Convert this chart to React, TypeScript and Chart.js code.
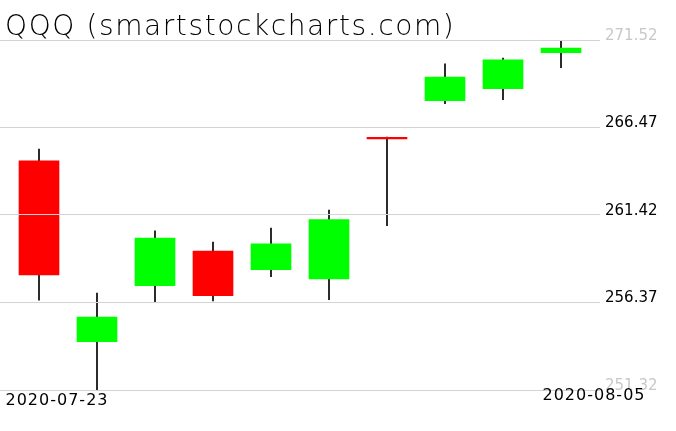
import React, { useEffect, useRef } from "react";
import { Chart, registerables } from "chart.js";

Chart.register(...registerables);

const TITLE = "QQQ (smartstockcharts.com)";
const dates = ["2020-07-23", "2020-07-24", "2020-07-27", "2020-07-28", "2020-07-29", "2020-07-30", "2020-07-31", "2020-08-03", "2020-08-04", "2020-08-05"];
const opens = [264.54, 254.11, 257.34, 259.34, 258.26, 257.73, 265.81, 268.02, 268.71, 270.79];
const highs = [265.23, 256.92, 260.5, 259.86, 260.67, 261.71, 265.92, 270.14, 270.48, 271.46];
const lows = [256.51, 251.34, 256.4, 256.46, 257.86, 256.53, 260.8, 267.84, 268.07, 269.92];
const closes = [257.96, 255.53, 260.09, 256.76, 259.75, 261.15, 265.81, 269.38, 270.37, 271.06];
const yTicks = [251.32, 256.37, 261.42, 266.47, 271.52];
const xLabelIdx = [0, 9];

export default function App() {
  const ref = useRef<HTMLCanvasElement | null>(null);
  useEffect(() => {
    const canvas = ref.current;
    if (!canvas) return;
    const up = "#00ff00";
    const down = "#ff0000";
    const colors = opens.map((o, i) => (closes[i] > o ? up : down));

    const overlay = {
      id: "overlay",
      afterDraw(chart: any) {
        const ctx = chart.ctx;
        const xs = chart.scales.x;
        ctx.save();
        ctx.fillStyle = "#000";
        ctx.font = "200 28px 'DejaVu Sans'";
        (ctx as any).letterSpacing = "1.6px";
        ctx.textAlign = "left";
        ctx.textBaseline = "alphabetic";
        ctx.fillText(TITLE, 5, 35);
        ctx.font = "16px 'DejaVu Sans'";
        (ctx as any).letterSpacing = "1px";
        ctx.textBaseline = "top";
        ctx.textAlign = "center";
        const first = xLabelIdx[0];
        const last = xLabelIdx[1];
        ctx.fillText(dates[first], xs.getPixelForValue(first) + 18, 393);
        ctx.fillText(dates[last], xs.getPixelForValue(last) + 33, 388);
        ctx.restore();
      },
    };

    const chart = new Chart(canvas, {
      type: "bar",
      data: {
        datasets: [
          {
            label: "body",
            data: dates.map((_, i) => ({ x: i, y: [opens[i], closes[i]] })) as any,
            backgroundColor: colors,
            barThickness: 40,
            minBarLength: 1.5,
            grouped: false,
            borderWidth: 0,
          },
          {
            label: "wick",
            data: dates.map((_, i) => ({ x: i, y: [lows[i], highs[i]] })) as any,
            backgroundColor: "#000",
            barThickness: 1,
            grouped: false,
            borderWidth: 0,
          },
        ],
      },
      options: {
        animation: false,
        responsive: false,
        devicePixelRatio: 1,
        layout: { padding: { top: 40, bottom: 41, left: 0, right: 0 } },
        plugins: { legend: { display: false }, tooltip: { enabled: false }, title: { display: false } },
        scales: {
          x: {
            type: "linear",
            offset: false,
            min: -39 / 58,
            max: 9 + 39 / 58,
            display: false,
            grid: { offset: false },
          },
          y: {
            position: "right",
            min: yTicks[0],
            max: yTicks[yTicks.length - 1],
            afterBuildTicks: (s: any) => {
              s.ticks = yTicks.map((v) => ({ value: v }));
            },
            afterFit: (s: any) => {
              s.width = 76;
            },
            border: { display: false },
            grid: { color: "#d3d3d3", lineWidth: 1, drawTicks: false, z: 1 },
            ticks: {
              padding: 5,
              labelOffset: -4,
              font: { family: "'DejaVu Sans'", size: 15 },
              color: (c: any) => (c.index === 0 || c.index === yTicks.length - 1 ? "#c8c8c8" : "#000"),
              callback: (v: any) => Number(v).toFixed(2),
            },
          },
        },
      },
      plugins: [overlay],
    });
    return () => chart.destroy();
  }, []);
  return (
    <div style={{ position: "fixed", left: 0, top: 0, width: 676, height: 431, background: "#fff" }}>
      <canvas ref={ref} width={676} height={431} style={{ width: 676, height: 431, display: "block" }} />
    </div>
  );
}
